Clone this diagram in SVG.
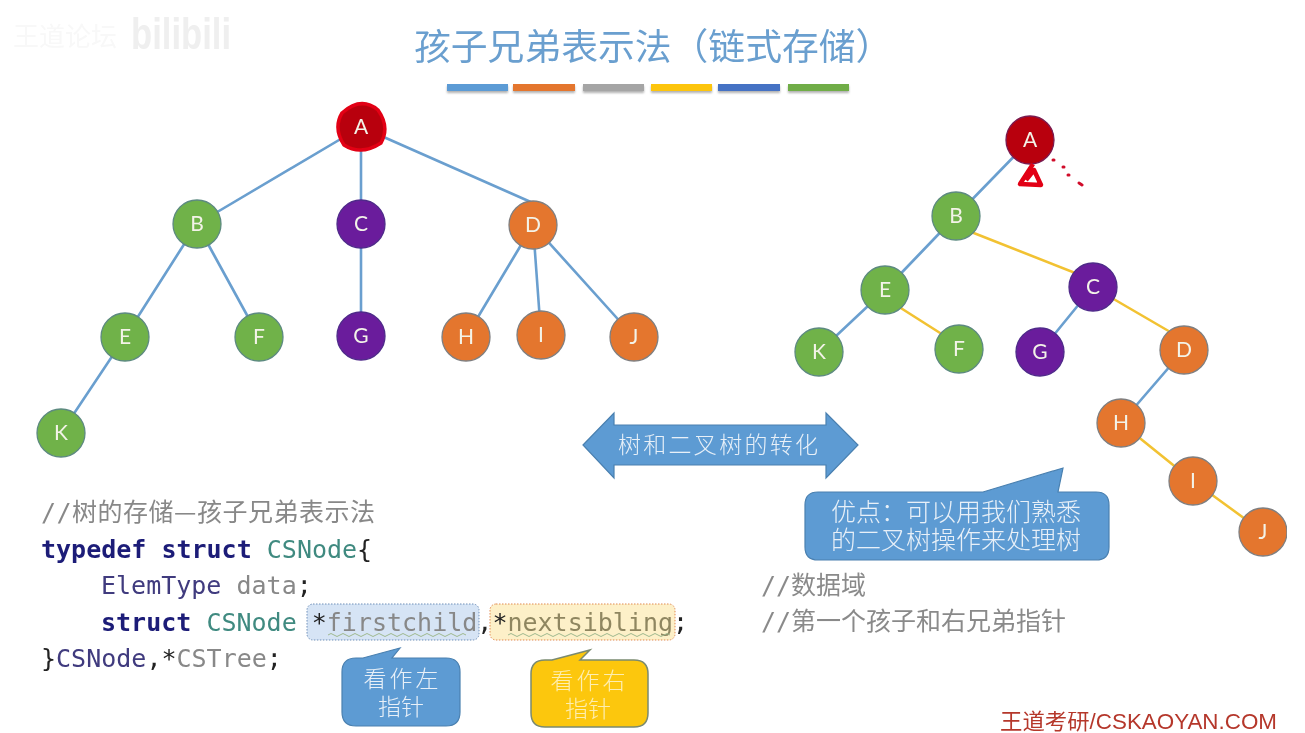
<svg xmlns="http://www.w3.org/2000/svg" width="1305" height="733" viewBox="0 0 1305 733">
<style>
text{font-family:"Liberation Sans","Noto Sans CJK SC",sans-serif}
.cjk{font-family:"Noto Sans CJK SC",sans-serif}
.code{font-family:"DejaVu Sans Mono","Noto Sans CJK SC",monospace;font-size:25px;fill:#888}
.kw{font-weight:bold;fill:#1d1d78}
.ty{fill:#3f8a80}
.pl{fill:#3f3a7e}
.pn{fill:#222}
.cm{fill:#8a8a8a}
.bar{height:7px;filter:url(#sh)}
.e-b{stroke:#6a9fcf;stroke-width:2.6;fill:none}
.e-y{stroke:#f2c233;stroke-width:2.6;fill:none}
.n circle{stroke-width:1.3}
.n text{font-family:Lato,"Liberation Sans",sans-serif;font-size:21px;fill:#f3f3e8;text-anchor:middle}
.g circle{fill:#70b24a;stroke:#5d8a80}
.o circle{fill:#e4762f;stroke:#7f7f80}
.p circle{fill:#6a1f9c;stroke:#4f2a8a}
.r circle{fill:#b80010;stroke:#7a1a50}
.lbl{fill:#e8f0f8;text-anchor:middle;font-family:"Noto Sans CJK SC",sans-serif;font-weight:300}
.blue{fill:#5d9bd3;stroke:#4a80b0;stroke-width:1.2}
</style>
<defs>
<filter id="sh" x="-5%" y="-50%" width="110%" height="220%"><feDropShadow dx="0" dy="2" stdDeviation="1.2" flood-color="#000" flood-opacity=".3"/></filter>
<filter id="soft" x="0" y="0" width="100%" height="100%"><feGaussianBlur stdDeviation="0.45"/></filter>
</defs>
<rect width="1305" height="733" fill="#fff"/>
<g id="slide" filter="url(#soft)">
<g id="watermark">
<text x="13" y="46" class="cjk" font-size="26" style="fill:#f8f8f8">王道论坛</text>
<text x="131" y="49" font-size="44" font-weight="bold" fill="#efefef" textLength="100" lengthAdjust="spacingAndGlyphs">bilibili</text>
</g>
<text id="title" x="414" y="60" class="cjk" font-size="36.8" fill="#6a9fcf">孩子兄弟表示法（链式存储）</text>
<g id="colorbars">
<rect class="bar" x="447" y="84" width="61" fill="#5b9bd5"/>
<rect class="bar" x="513" y="84" width="62" fill="#e4762f"/>
<rect class="bar" x="583" y="84" width="61" fill="#a5a5a5"/>
<rect class="bar" x="651" y="84" width="61" fill="#fdc50f"/>
<rect class="bar" x="718" y="84" width="62" fill="#4472c4"/>
<rect class="bar" x="788" y="84" width="61" fill="#70ad47"/>
</g>
<g id="connectors">
<path class="e-b" d="M361 127L197 224M361 127V224M361 127L533 203M197 224L125 337M197 224L259 337M361 224V336M533 225L466 337M533 225L541 335M533 225L634 337M125 337L61 433"/>
<path class="e-b" d="M1030 140L956 216M956 216L885 290M885 290L819 352M1093 287L1040 352M1184 350L1121 423"/>
<path class="e-y" d="M956 226L1093 280M885 298L959 345M1093 287L1184 340M1121 423L1193 481M1193 481L1263 532"/>
</g>
<g id="A1" class="n r">
<path id="A1-ink" d="M342 113Q361 96 378 110Q390 127 381 143Q361 156 344 145Q333 128 342 113Z" fill="#b80010" stroke="#e20012" stroke-width="3.5"/>
<text x="361" y="134">A</text></g>
<g id="B1" class="n g"><circle cx="197" cy="224" r="24"/><text x="197" y="231">B</text></g>
<g id="C1" class="n p"><circle cx="361" cy="224" r="24"/><text x="361" y="231">C</text></g>
<g id="D1" class="n o"><circle cx="533" cy="225" r="24"/><text x="533" y="232">D</text></g>
<g id="E1" class="n g"><circle cx="125" cy="337" r="24"/><text x="125" y="344">E</text></g>
<g id="F1" class="n g"><circle cx="259" cy="337" r="24"/><text x="259" y="344">F</text></g>
<g id="G1" class="n p"><circle cx="361" cy="336" r="24"/><text x="361" y="343">G</text></g>
<g id="H1" class="n o"><circle cx="466" cy="337" r="24"/><text x="466" y="344">H</text></g>
<g id="I1" class="n o"><circle cx="541" cy="335" r="24"/><text x="541" y="342">I</text></g>
<g id="J1" class="n o"><circle cx="634" cy="337" r="24"/><text x="634" y="344">J</text></g>
<g id="K1" class="n g"><circle cx="61" cy="433" r="24"/><text x="61" y="440">K</text></g>
<g id="A2" class="n r"><circle cx="1030" cy="140" r="24"/><text x="1030" y="147">A</text></g>
<path id="A2-ink" d="M1033 164L1020 184L1041 185L1034 170L1026 180" fill="none" stroke="#e20012" stroke-width="4.5" stroke-linejoin="round"/>
<path id="A2-dots" d="M1053 160h1M1063 167h1M1068 175h1M1079 183l3 2" fill="none" stroke="#d0102a" stroke-width="3" stroke-linecap="round"/>
<g id="B2" class="n g"><circle cx="956" cy="216" r="24"/><text x="956" y="223">B</text></g>
<g id="C2" class="n p"><circle cx="1093" cy="287" r="24"/><text x="1093" y="294">C</text></g>
<g id="D2" class="n o"><circle cx="1184" cy="350" r="24"/><text x="1184" y="357">D</text></g>
<g id="E2" class="n g"><circle cx="885" cy="290" r="24"/><text x="885" y="297">E</text></g>
<g id="F2" class="n g"><circle cx="959" cy="349" r="24"/><text x="959" y="356">F</text></g>
<g id="G2" class="n p"><circle cx="1040" cy="352" r="24"/><text x="1040" y="359">G</text></g>
<g id="H2" class="n o"><circle cx="1121" cy="423" r="24"/><text x="1121" y="430">H</text></g>
<g id="I2" class="n o"><circle cx="1193" cy="481" r="24"/><text x="1193" y="488">I</text></g>
<g id="J2" class="n o"><circle cx="1263" cy="532" r="24"/><text x="1263" y="539">J</text></g>
<g id="K2" class="n g"><circle cx="819" cy="352" r="24"/><text x="819" y="359">K</text></g>
<g id="arrow">
<path class="blue" d="M583 445L614 413V425H826V413L858 445L826 478V465H614V478Z"/>
<text class="lbl" x="718" y="453" font-size="23" textLength="200">树和二叉树的转化</text>
</g>
<g id="code">
<text class="code" x="41" y="521" xml:space="preserve" textLength="334">//树的存储<tspan class="cjk">—</tspan>孩子兄弟表示法</text>
<text class="code" x="41" y="558" xml:space="preserve"><tspan class="kw">typedef struct</tspan> <tspan class="ty">CSNode</tspan><tspan class="pn">{</tspan></text>
<text class="code" x="101" y="594" xml:space="preserve"><tspan class="pl">ElemType</tspan> data<tspan class="pn">;</tspan></text>
<rect x="307" y="604" width="172" height="36" rx="6" fill="#d6e4f5" stroke="#6f8fb8" stroke-width="1" stroke-dasharray="1.5 1.5"/>
<rect x="490" y="604" width="185" height="36" rx="6" fill="#fdf0c8" stroke="#e08a50" stroke-width="1" stroke-dasharray="1.5 1.5"/>
<text class="code" x="101" y="631" xml:space="preserve"><tspan class="kw">struct</tspan> <tspan class="ty">CSNode</tspan> <tspan class="pn">*</tspan>firstchild<tspan class="pn">,*</tspan><tspan fill="#8f8660">nextsibling</tspan><tspan class="pn">;</tspan></text>
<path d="M328 635q3-3 6 0t6 0 6 0 6 0 6 0 6 0 6 0 6 0 6 0 6 0 6 0 6 0 6 0 6 0 6 0 6 0 6 0 6 0 6 0 6 0 6 0 6 0 6 0 M508 635q3-3 6 0t6 0 6 0 6 0 6 0 6 0 6 0 6 0 6 0 6 0 6 0 6 0 6 0 6 0 6 0 6 0 6 0 6 0 6 0 6 0 6 0 6 0 6 0 6 0 6 0 6 0 6 0" fill="none" stroke="#9fb98f" stroke-width="1"/>
<text class="code" x="41" y="667" xml:space="preserve"><tspan class="pn">}</tspan><tspan class="pl">CSNode</tspan><tspan class="pn">,*</tspan>CSTree<tspan class="pn">;</tspan></text>
<text class="code" x="761" y="594" xml:space="preserve"><tspan class="cm">//数据域</tspan></text>
<text class="code" x="761" y="630" xml:space="preserve"><tspan class="cm">//第一个孩子和右兄弟指针</tspan></text>
</g>
<g id="callout-left">
<path class="blue" d="M356 658H363L400 648L392 658H446Q460 658 460 672V712Q460 726 446 726H356Q342 726 342 712V672Q342 658 356 658Z"/>
<text class="lbl" font-size="23"><tspan x="401" y="687" textLength="75">看作左</tspan><tspan x="401" y="715">指针</tspan></text>
</g>
<g id="callout-right">
<path d="M545 660H552L590 650L580 660H634Q648 660 648 674V713Q648 727 634 727H545Q531 727 531 713V674Q531 660 545 660Z" fill="#fcc70f" stroke="#7a8a70" stroke-width="1.5"/>
<text class="lbl" font-size="23" style="fill:#fdeeb0"><tspan x="588" y="689" textLength="75">看作右</tspan><tspan x="588" y="717">指针</tspan></text>
</g>
<g id="callout-advantage">
<path class="blue" d="M983 492L1063 468L1058 492H1096Q1109 492 1109 505V547Q1109 560 1096 560H818Q805 560 805 547V505Q805 492 818 492Z"/>
<text class="lbl" font-size="25"><tspan x="956" y="521" textLength="250">优点：可以用我们熟悉</tspan><tspan x="956" y="549" textLength="250">的二叉树操作来处理树</tspan></text>
</g>
<text id="brand" x="1000" y="729" font-size="22" fill="#b5372c" textLength="277" lengthAdjust="spacingAndGlyphs">王道考研/CSKAOYAN.COM</text>
</g>
</svg>
